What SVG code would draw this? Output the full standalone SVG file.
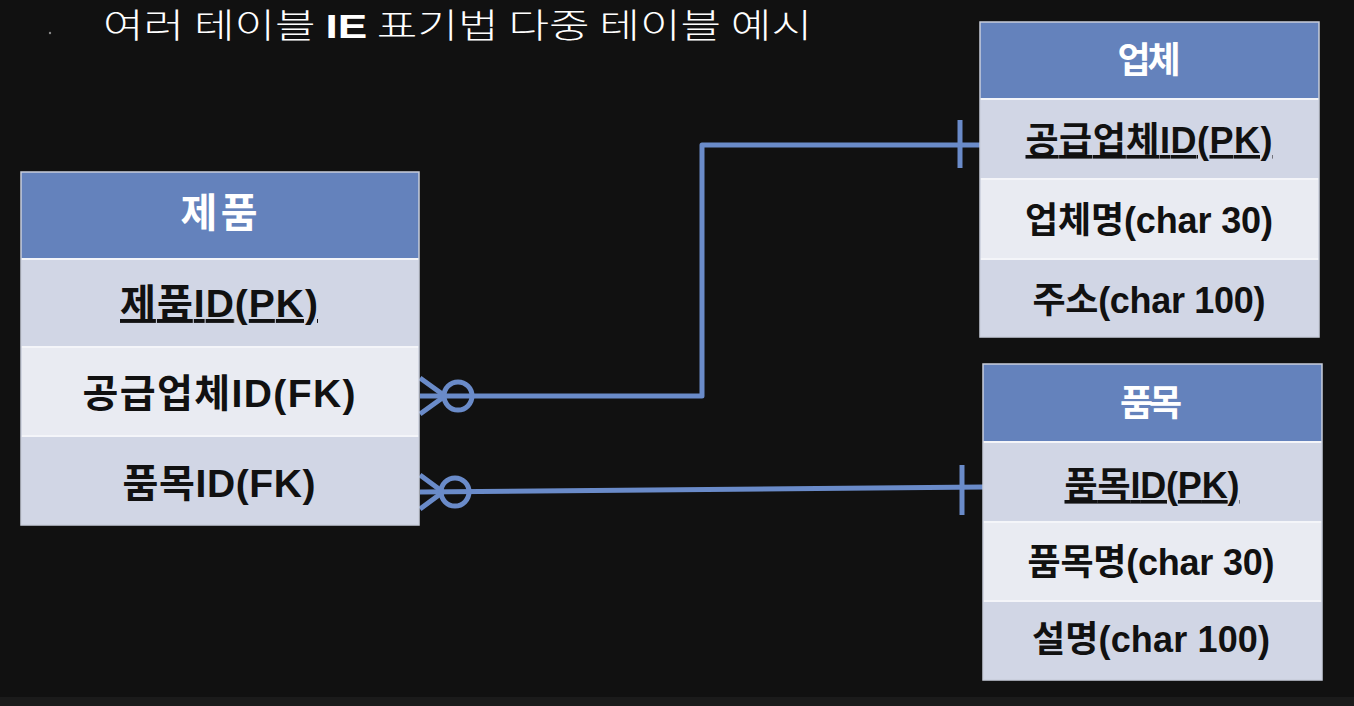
<svg xmlns="http://www.w3.org/2000/svg" width="1354" height="706" viewBox="0 0 1354 706">
<style>
.hdr{fill:#6482bc}
.r1{fill:#d1d6e5}
.r2{fill:#e9ebf2}
.sep{stroke:#f4f5f9;stroke-width:2}
.frame{fill:none;stroke:#c9cedb;stroke-width:1.5}
.ht{font-family:"Liberation Sans","Noto Sans CJK KR",sans-serif;font-weight:bold;font-size:36px;fill:#ffffff;text-anchor:middle}
.rt{font-family:"Liberation Sans","Noto Sans CJK KR",sans-serif;font-weight:bold;font-size:36px;fill:#111111;text-anchor:middle}
.big{font-size:39px}
.bighd{font-size:40px}
.pk{text-decoration:underline}
.con{fill:none;stroke:#6a8bc9;stroke-width:5;stroke-linejoin:round}
</style>
<rect width="1354" height="706" fill="#111111"/>
<rect x="0" y="697" width="1354" height="9" fill="#1b1b1b"/>
<circle cx="50" cy="33" r="1.2" fill="#888888"/>
<text x="103" y="38" font-family="'Noto Sans CJK KR','Noto Sans',sans-serif" font-weight="300" font-size="34" fill="#ffffff" textLength="709" lengthAdjust="spacingAndGlyphs">여러 테이블 <tspan font-weight="bold" font-family="'Liberation Sans','Noto Sans CJK KR',sans-serif">IE</tspan> 표기법 다중 테이블 예시</text>

<g id="connectors">
  <path class="con" d="M420,396 H702 V145 H980"/>
  <path class="con" d="M960,120 V168"/>
  <path class="con" d="M420,378 L445,396 L420,414"/>
  <circle class="con" cx="458" cy="396" r="14"/>
  <path class="con" d="M420,492 L983,487"/>
  <path class="con" d="M962,465 V515"/>
  <path class="con" d="M420,475 L443,492 L420,509"/>
  <circle class="con" cx="455" cy="492" r="14"/>
</g>

<g id="table-product">
  <rect class="hdr" x="21" y="172" width="398" height="87"/>
  <rect class="r1" x="21" y="259" width="398" height="88"/>
  <rect class="r2" x="21" y="347" width="398" height="89"/>
  <rect class="r1" x="21" y="436" width="398" height="89"/>
  <line class="sep" x1="21" y1="259" x2="419" y2="259"/>
  <line class="sep" x1="21" y1="347" x2="419" y2="347"/>
  <line class="sep" x1="21" y1="436" x2="419" y2="436"/>
  <rect class="frame" x="21" y="172" width="398" height="353"/>
  <text class="ht bighd" x="219" y="227" textLength="77">제품</text>
  <text class="rt big pk" x="219" y="317" textLength="198">제품ID(PK)</text>
  <text class="rt big" x="219" y="407" textLength="273">공급업체ID(FK)</text>
  <text class="rt big" x="219" y="497" textLength="193">품목ID(FK)</text>
</g>

<g id="table-vendor">
  <rect class="hdr" x="980" y="22" width="339" height="77"/>
  <rect class="r1" x="980" y="99" width="339" height="80"/>
  <rect class="r2" x="980" y="179" width="339" height="80"/>
  <rect class="r1" x="980" y="259" width="339" height="78"/>
  <line class="sep" x1="980" y1="99" x2="1319" y2="99"/>
  <line class="sep" x1="980" y1="179" x2="1319" y2="179"/>
  <line class="sep" x1="980" y1="259" x2="1319" y2="259"/>
  <rect class="frame" x="980" y="22" width="339" height="315"/>
  <text class="ht" x="1149" y="73" textLength="63">업체</text>
  <text class="rt pk" x="1149" y="153" textLength="247">공급업체ID(PK)</text>
  <text class="rt" x="1149" y="233" textLength="248">업체명(char 30)</text>
  <text class="rt" x="1149" y="313" textLength="233">주소(char 100)</text>
</g>

<g id="table-item">
  <rect class="hdr" x="983" y="364" width="339" height="78"/>
  <rect class="r1" x="983" y="442" width="339" height="80"/>
  <rect class="r2" x="983" y="522" width="339" height="79"/>
  <rect class="r1" x="983" y="601" width="339" height="79"/>
  <line class="sep" x1="983" y1="442" x2="1322" y2="442"/>
  <line class="sep" x1="983" y1="522" x2="1322" y2="522"/>
  <line class="sep" x1="983" y1="601" x2="1322" y2="601"/>
  <rect class="frame" x="983" y="364" width="339" height="316"/>
  <text class="ht" x="1151" y="416" textLength="62">품목</text>
  <text class="rt pk" x="1152" y="498" textLength="175">품목ID(PK)</text>
  <text class="rt" x="1151" y="575" textLength="247">품목명(char 30)</text>
  <text class="rt" x="1151" y="652" textLength="238">설명(char 100)</text>
</g>
</svg>
